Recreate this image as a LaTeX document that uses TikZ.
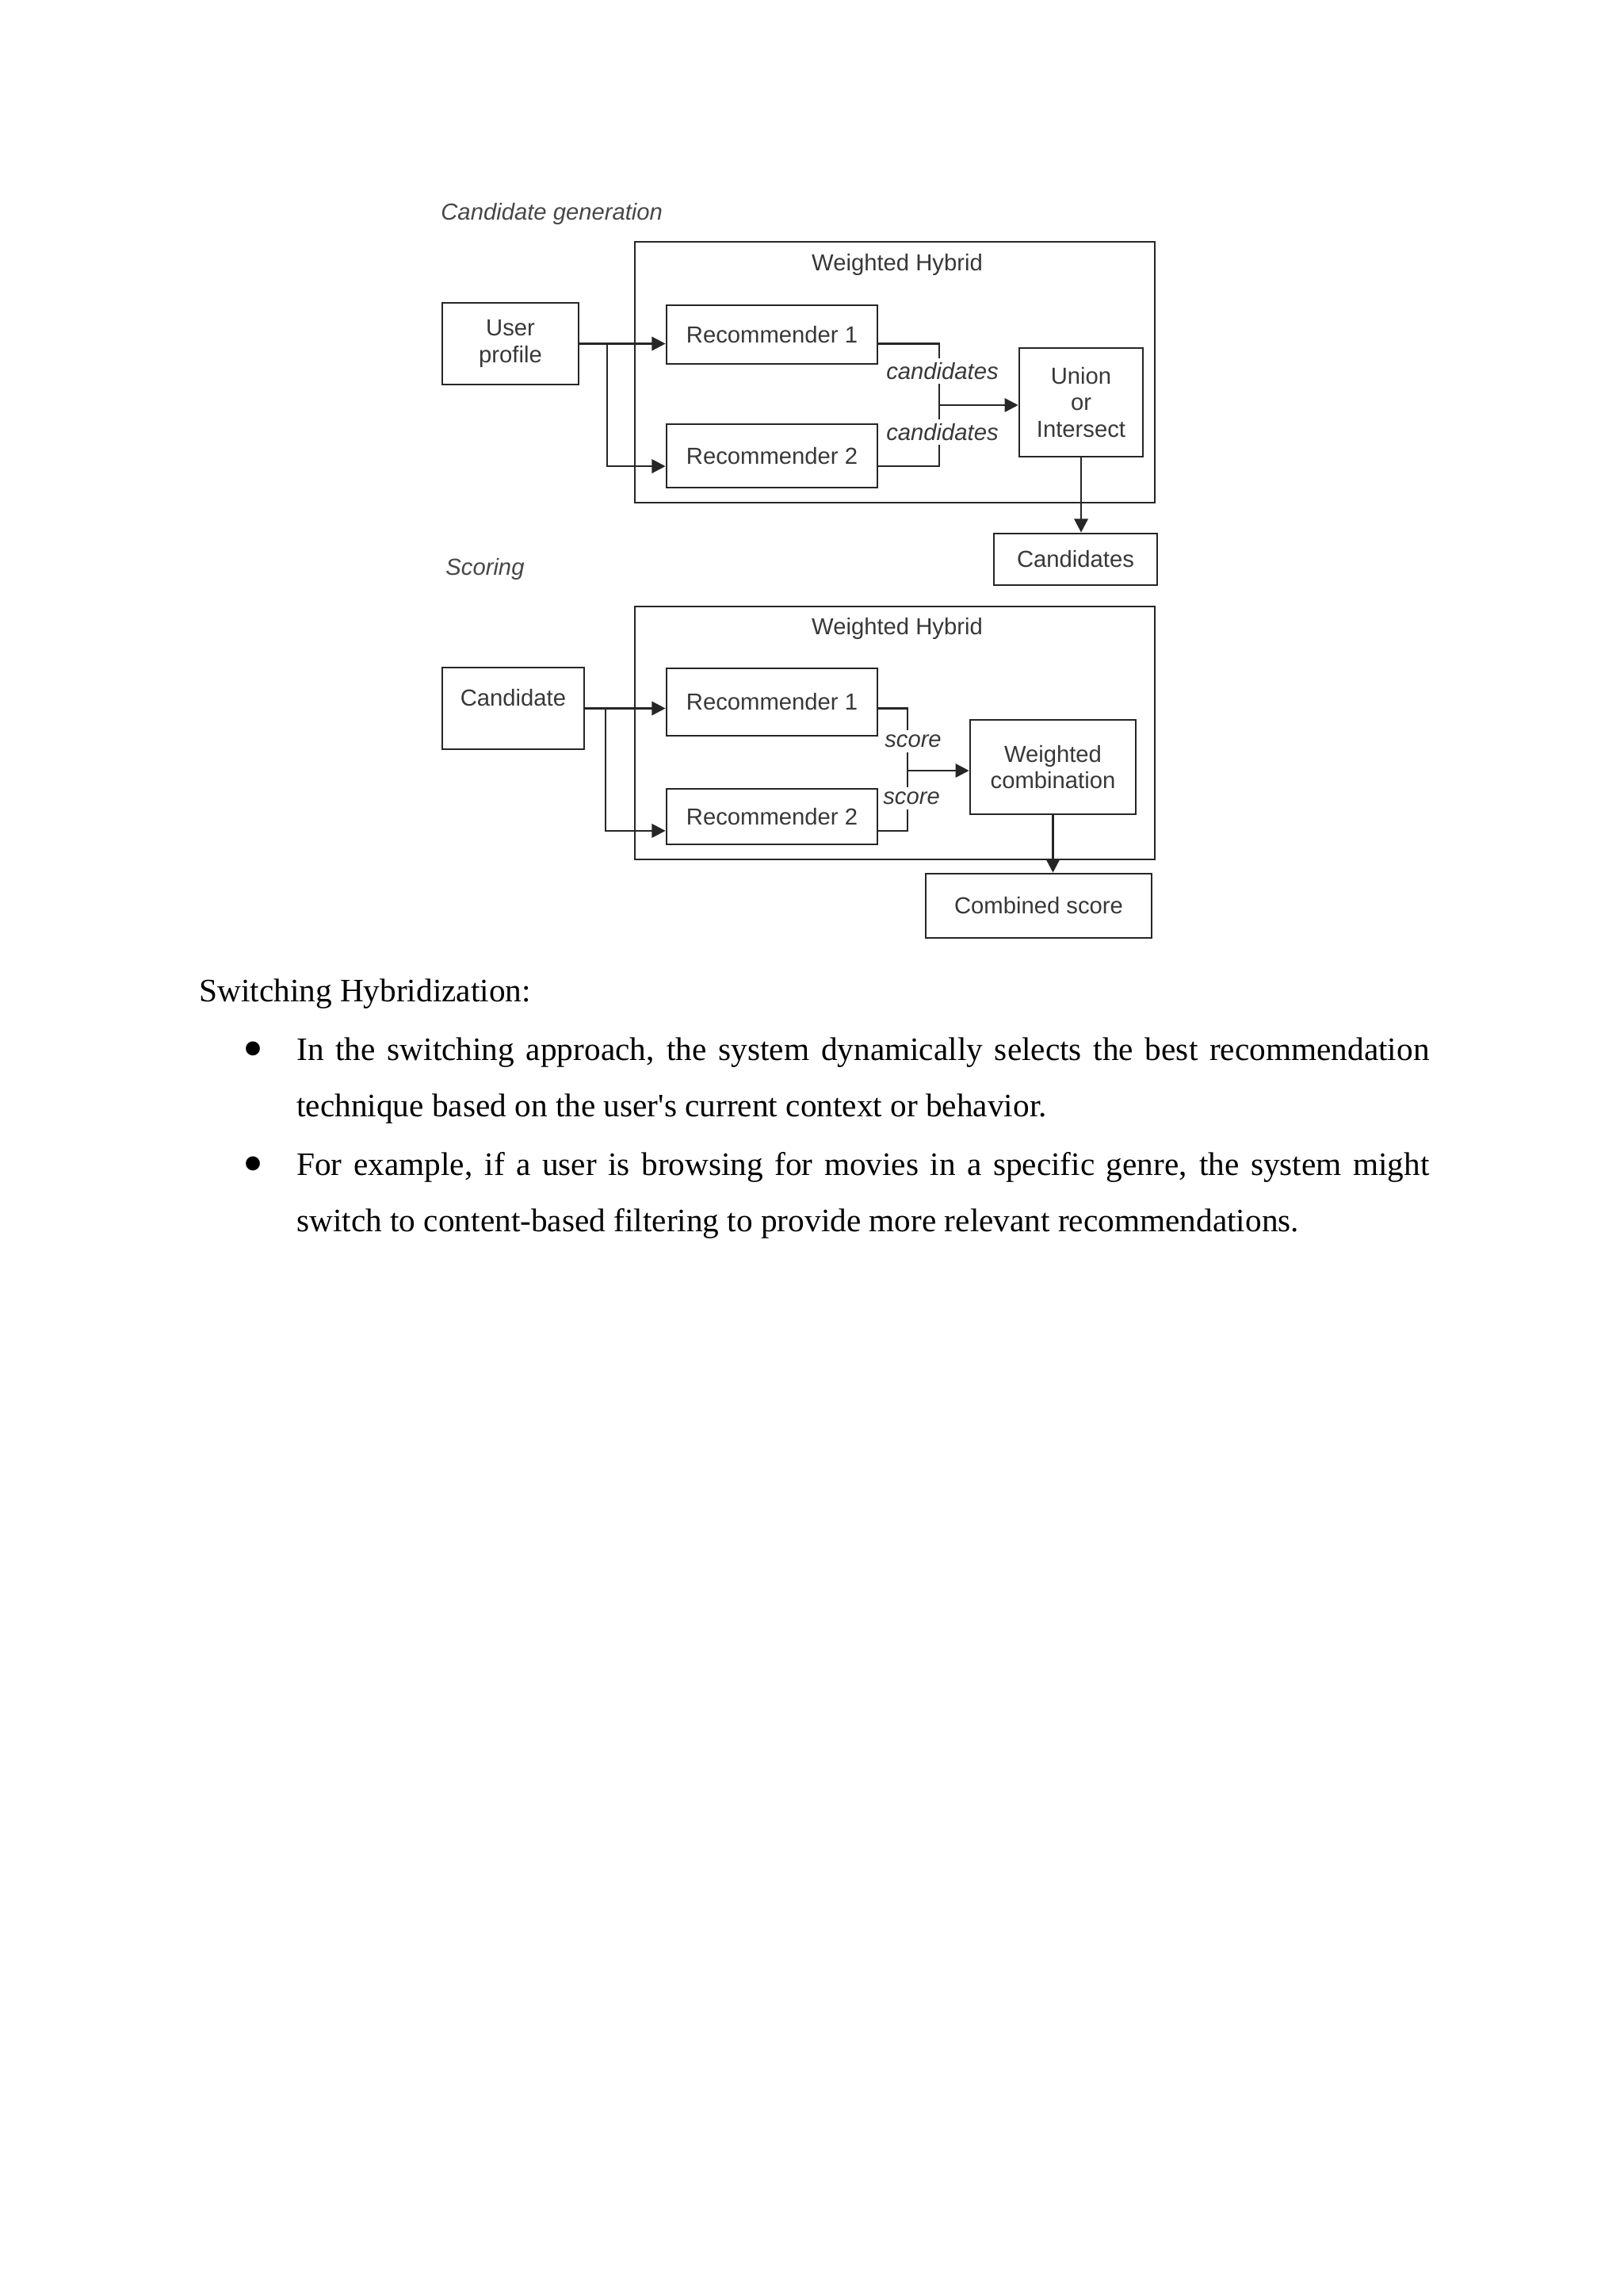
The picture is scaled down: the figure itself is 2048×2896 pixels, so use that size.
\documentclass[tikz,border=0pt]{standalone}
\usepackage{fontspec}
\usepackage{graphicx}
\setmainfont{Liberation Serif}
\newfontfamily\diagfont{Liberation Sans}
\usetikzlibrary{positioning,arrows.meta}
\tikzset{line/.style={draw=black!85, -{Triangle[length=5pt,width=5pt]}}}

\begin{document}
\begin{tikzpicture}[x=0.29066pt, y=-0.29066pt, line width=0.8pt,
  main/.style = {draw=black!85, rectangle, inner sep=0pt, align=center, text=black!78, font=\diagfont\fontsize{8.5}{9.8}\selectfont},
  frame/.style = {draw=black!85, rectangle, inner sep=0pt},
  title/.style = {text=black!78, font=\diagfont\fontsize{8.5}{9.8}\selectfont},
  head/.style = {text=black!72, inner sep=0pt, font=\diagfont\itshape\fontsize{8.5}{9.8}\selectfont},
  tag/.style = {fill=white, inner sep=1.6pt, text=black!78, font=\diagfont\itshape\fontsize{8.5}{9.8}\selectfont},
  wire/.style = {draw=black!85},
  body/.style = {inner sep=0pt, anchor=base west, font=\fontsize{12}{20.8}\selectfont},
  item/.style = {body, text width=415.4pt, align=justify},
  dot/.style = {inner sep=0pt, anchor=base, font=\fontsize{12}{20.8}\selectfont}]
\useasboundingbox (0,0) rectangle (2048,2896);

% candidate generation
\node[frame, minimum width=190.7pt, minimum height=95.6pt] (hybA) at (1129,469.5) {};
\node[head, anchor=west] (gen) at (555,270) {Candidate generation};
\node[title] (hybAt) at (1132,334) {Weighted Hybrid};
\node[main, minimum width=50pt, minimum height=29.9pt] (userp) at (644,433.5) {User\\profile};
\node[main, minimum width=77.3pt, minimum height=21.5pt] (recA1) at (974,422) {Recommender 1};
\node[main, minimum width=77.3pt, minimum height=23.3pt] (recA2) at (974,575) {Recommender 2};
\node[main, minimum width=45.3pt, minimum height=39.8pt] (unionb) at (1364,507.5) {Union\\or\\Intersect};
\node[main, minimum width=59.9pt, minimum height=18.9pt] (candsb) at (1357,705.5) {Candidates};
\coordinate (brA) at (766,433.5);
\coordinate (inA2) at ([yshift=-3.8pt]recA2.west);
\coordinate (jA) at (1185,511);
\draw[line] (userp.east) -- (userp.east -| recA1.west);
\draw[line] (brA) |- (inA2);
\draw[wire] (userp.east -| recA1.east) -| (jA);
\draw[wire] (inA2 -| recA2.east) -| (jA);
\draw[line] (jA) -- (jA -| unionb.west);
\draw[line] (unionb.south) -- (unionb.south |- candsb.north);
\node[tag] (cA1) at (1189,468) {candidates};
\node[tag] (cA2) at (1189,545) {candidates};

% scoring
\node[head, anchor=west] (scor) at (561,718) {Scoring};
\node[frame, minimum width=190.7pt, minimum height=92.7pt] (hybB) at (1129,924.5) {};
\node[title] (hybBt) at (1132,793) {Weighted Hybrid};
\node[main, minimum width=52pt, minimum height=29.9pt, text depth=8pt] (cand) at (647.5,893.5) {Candidate};
\node[main, minimum width=77.3pt, minimum height=24.7pt] (recB1) at (974,885.5) {Recommender 1};
\node[main, minimum width=77.3pt, minimum height=20.3pt] (recB2) at (974,1030) {Recommender 2};
\node[main, minimum width=60.7pt, minimum height=34.6pt] (wcomb) at (1328.5,967.5) {Weighted\\combination};
\node[main, minimum width=82.8pt, minimum height=23.5pt] (cscore) at (1310.5,1142.5) {Combined score};
\coordinate (brB) at (764,893.5);
\coordinate (inB2) at ([yshift=-5.2pt]recB2.west);
\coordinate (jB) at (1145,972);
\draw[line] (cand.east) -- (cand.east -| recB1.west);
\draw[line] (brB) |- (inB2);
\draw[wire] (cand.east -| recB1.east) -| (jB);
\draw[wire] (inB2 -| recB2.east) -| (jB);
\draw[line] (jB) -- (jB -| wcomb.west);
\draw[line] (wcomb.south) -- (wcomb.south |- cscore.north);
\node[tag] (sB1) at (1152,935) {score};
\node[tag] (sB2) at (1150,1007) {score};

% text below
\node[body] (swh) at (250,1263) {Switching Hybridization:};
\node[dot] (bulA) at (319.5,1337) {\raisebox{-3pt}{\scalebox{1.8}{\textbullet}}};
\node[item] (itA) at (373,1337) {In the switching approach, the system dynamically selects the best recommendation technique based on the user\textquotesingle s current context or behavior.};
\node[dot] (bulB) at (319.5,1482) {\raisebox{-3pt}{\scalebox{1.8}{\textbullet}}};
\node[item] (itB) at (373,1482) {For example, if a user is browsing for movies in a specific genre, the system might switch to content-based filtering to provide more relevant recommendations.};
\end{tikzpicture}
\end{document}
